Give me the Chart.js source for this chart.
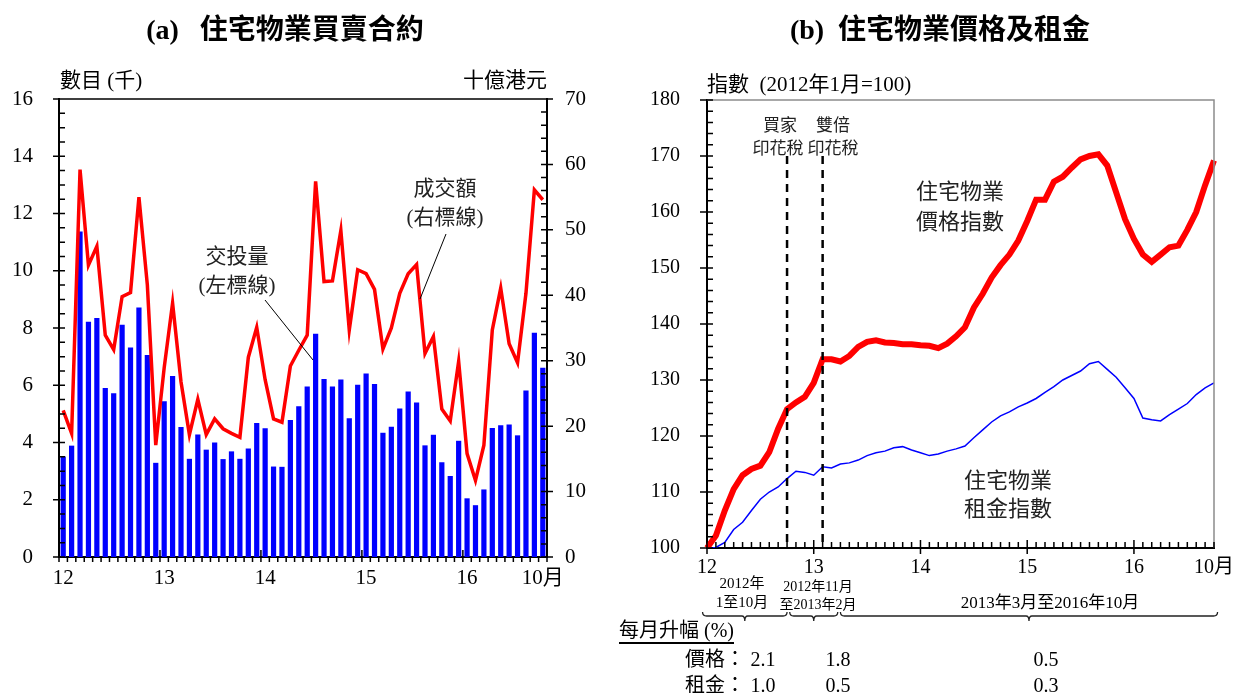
<!DOCTYPE html>
<html>
<head>
<meta charset="utf-8">
<script src="https://cdn.jsdelivr.net/npm/chart.js@4.4.1/dist/chart.umd.min.js"></script>
<style>
  body { margin: 0; background: #fff; }
  #page { position: relative; width: 1242px; height: 693px; overflow: hidden;
          font-family: "Liberation Serif", "Noto Sans CJK TC", serif; color: #000; }
  canvas { position: absolute; top: 0; }
  .t { position: absolute; white-space: pre; line-height: 1; transform: translate(-50%, -50%); }
  .l { position: absolute; white-space: pre; line-height: 1; transform: translateY(-50%); }
  .r { position: absolute; white-space: pre; line-height: 1; transform: translate(-100%, -50%); }
  .title { font-size: 28px; font-weight: bold; }
  .title span { font-family: "Noto Sans CJK TC", sans-serif; }
  .note { color: #222; }
</style>
</head>
<body>
<div id="page">
  <canvas id="chartA" width="600" height="600" style="left:0"></canvas>
  <canvas id="chartB" width="642" height="693" style="left:600px"></canvas>

  <div class="t title" style="left:285px; top:28px">(a)   <span>住宅物業買賣合約</span></div>
  <div class="t title" style="left:940px; top:28px">(b)  <span>住宅物業價格及租金</span></div>

  <div class="l" style="left:60px; top:80px; font-size:21px">數目 (千)</div>
  <div class="r" style="left:547px; top:80px; font-size:21px">十億港元</div>
  <div class="t note" style="left:237px; top:256px; font-size:21px">交投量</div>
  <div class="t note" style="left:237px; top:285px; font-size:21px">(左標線)</div>
  <div class="t note" style="left:445px; top:188px; font-size:21px">成交額</div>
  <div class="t note" style="left:445px; top:217px; font-size:21px">(右標線)</div>

  <div class="l" style="left:707px; top:84px; font-size:21px">指數  (2012年1月=100)</div>
  <div class="t note" style="left:780px; top:125px; font-size:17px">買家</div>
  <div class="t note" style="left:778px; top:148px; font-size:17px">印花稅</div>
  <div class="t note" style="left:833px; top:125px; font-size:17px">雙倍</div>
  <div class="t note" style="left:833px; top:148px; font-size:17px">印花稅</div>
  <div class="t note" style="left:960px; top:192px; font-size:22px">住宅物業</div>
  <div class="t note" style="left:960px; top:222px; font-size:22px">價格指數</div>
  <div class="t note" style="left:1008px; top:481px; font-size:22px">住宅物業</div>
  <div class="t note" style="left:1008px; top:509px; font-size:22px">租金指數</div>

  <div class="t" style="left:742px; top:583px; font-size:15px">2012年</div>
  <div class="t" style="left:742px; top:602px; font-size:15px">1至10月</div>
  <div class="t" style="left:818px; top:587px; font-size:14px">2012年11月</div>
  <div class="t" style="left:818px; top:605px; font-size:14px">至2013年2月</div>
  <div class="t" style="left:1050px; top:602px; font-size:17px">2013年3月至2016年10月</div>
  <div class="l" style="left:619px; top:632px; font-size:20px; border-bottom:2px solid #000; padding-bottom:2px">每月升幅 (%)</div>
  <div class="r" style="left:745px; top:659px; font-size:20px">價格：</div>
  <div class="r" style="left:745px; top:685px; font-size:20px">租金：</div>
  <div id="footer"></div>
</div>

<script>
// months Jan 2012 - Oct 2016
const months = [
  '2012-01','2012-02','2012-03','2012-04','2012-05','2012-06','2012-07','2012-08','2012-09','2012-10','2012-11','2012-12',
  '2013-01','2013-02','2013-03','2013-04','2013-05','2013-06','2013-07','2013-08','2013-09','2013-10','2013-11','2013-12',
  '2014-01','2014-02','2014-03','2014-04','2014-05','2014-06','2014-07','2014-08','2014-09','2014-10','2014-11','2014-12',
  '2015-01','2015-02','2015-03','2015-04','2015-05','2015-06','2015-07','2015-08','2015-09','2015-10','2015-11','2015-12',
  '2016-01','2016-02','2016-03','2016-04','2016-05','2016-06','2016-07','2016-08','2016-09','2016-10'
];

// (a) agreements, thousand (left axis)
const volume = [
  3.51, 3.89, 11.37, 8.22, 8.35, 5.90, 5.72, 8.11, 7.32, 8.72, 7.06, 3.29,
  5.44, 6.32, 4.54, 3.43, 4.28, 3.75, 4.00, 3.42, 3.69, 3.43, 3.79, 4.68,
  4.50, 3.16, 3.15, 4.79, 5.27, 5.96, 7.80, 6.22, 5.96, 6.20, 4.85, 6.02,
  6.41, 6.04, 4.34, 4.55, 5.19, 5.78, 5.40, 3.90, 4.27, 3.31, 2.83, 4.06,
  2.05, 1.81, 2.36, 4.51, 4.60, 4.63, 4.25, 5.82, 7.83, 6.61
];

// (a) consideration, HK$ billion (right axis)
const consideration = [
  22.4, 18.9, 59.2, 44.6, 47.5, 33.9, 31.7, 39.8, 40.4, 55.0, 41.6, 17.1,
  28.9, 38.8, 26.8, 18.7, 24.1, 18.7, 21.1, 19.6, 18.9, 18.3, 30.5, 35.1,
  27.1, 21.1, 20.6, 29.2, 31.6, 33.9, 57.4, 42.1, 42.2, 49.9, 34.7, 43.9,
  43.3, 40.9, 31.8, 35.0, 40.3, 43.3, 44.7, 31.1, 33.7, 22.6, 20.8, 29.9,
  15.8, 11.7, 17.1, 34.7, 41.1, 32.6, 29.7, 40.3, 56.1, 54.6
];

// (b) indices, Jan 2012 = 100
const priceIndex = [
  100.0, 102.2, 106.7, 110.5, 113.0, 114.1, 114.7, 117.1, 121.3, 124.8, 126.0, 127.0,
  129.5, 133.7, 133.7, 133.3, 134.3, 135.9, 136.8, 137.1, 136.7, 136.6, 136.4, 136.4,
  136.2, 136.1, 135.7, 136.5, 137.8, 139.4, 142.9, 145.4, 148.3, 150.5, 152.4, 154.9,
  158.4, 162.2, 162.2, 165.4, 166.3, 167.9, 169.4, 170.0, 170.3, 168.3, 163.5, 158.7,
  155.2, 152.4, 151.1, 152.4, 153.7, 154.0, 156.8, 160.0, 164.8, 169.2
];
const rentIndex = [
  100.0, 100.1, 101.0, 103.3, 104.6, 106.7, 108.7, 110.0, 110.9, 112.4, 113.7, 113.5,
  113.0, 114.5, 114.3, 115.0, 115.2, 115.7, 116.5, 117.0, 117.3, 117.9, 118.1, 117.5,
  117.0, 116.5, 116.8, 117.3, 117.7, 118.2, 119.7, 121.1, 122.5, 123.6, 124.3, 125.2,
  125.9, 126.7, 127.8, 128.8, 130.0, 130.8, 131.6, 132.9, 133.3, 131.9, 130.5, 128.6,
  126.7, 123.2, 122.9, 122.7, 123.8, 124.8, 125.8, 127.4, 128.6, 129.5
];

const tickMonths = ['2012-01', '2013-01', '2014-01', '2015-01', '2016-01', '2016-10'];
const tickLabels = ['12', '13', '14', '15', '16', '10月'];
const stampDutyMonths = ['2012-10', '2013-02'];

// monthly change (%) per period
const priceChange = ['2.1', '1.8', '0.5'];
const rentChange = ['1.0', '0.5', '0.3'];

const SERIF = '"Liberation Serif", "Noto Sans CJK TC", serif';

function monthTick(value, index) {
  const k = tickMonths.indexOf(months[index]);
  return k < 0 ? '' : tickLabels[k];
}

// footer numbers
const footerX = [763, 838, 1046];
const footer = document.getElementById('footer');
priceChange.forEach((v, i) => {
  footer.insertAdjacentHTML('beforeend',
    '<div class="t" style="left:' + footerX[i] + 'px; top:659px; font-size:20px">' + v + '</div>' +
    '<div class="t" style="left:' + footerX[i] + 'px; top:685px; font-size:20px">' + rentChange[i] + '</div>');
});

const ticksA = {
  id: 'ticksA',
  afterDraw(chart) {
    const { ctx, chartArea: a, scales: { x, y, y1 } } = chart;
    ctx.save();
    ctx.strokeStyle = '#000';
    ctx.lineWidth = 1.5;
    ctx.beginPath();
    ctx.moveTo(a.left - 6, a.top);
    ctx.lineTo(a.right, a.top);
    for (let v = 0; v <= 16; v += 0.5) {
      const py = y.getPixelForValue(v);
      ctx.moveTo(a.left + 6, py);
      ctx.lineTo(v % 2 === 0 ? a.left - 6 : a.left, py);
    }
    for (let v = 0; v <= 70; v += 2) {
      const py = y1.getPixelForValue(v);
      ctx.moveTo(a.right - 6, py);
      ctx.lineTo(v % 10 === 0 ? a.right + 6 : a.right, py);
    }
    const half = (x.getPixelForValue(1) - x.getPixelForValue(0)) / 2;
    for (let i = 0; i <= months.length; i++) {
      const px = x.getPixelForValue(i) - half;
      ctx.moveTo(px, a.bottom + 5);
      ctx.lineTo(px, i % 12 === 0 && i > 0 ? a.bottom - 7 : a.bottom);
    }
    ctx.stroke();

    // leader lines
    ctx.lineWidth = 1;
    ctx.beginPath();
    ctx.moveTo(265, 300);
    ctx.lineTo(313, 360);
    ctx.moveTo(446, 234);
    ctx.lineTo(420, 299);
    ctx.stroke();
    ctx.restore();
  }
};

const ticksB = {
  id: 'ticksB',
  afterDraw(chart) {
    const { ctx, chartArea: a, scales: { x, y } } = chart;
    ctx.save();
    // grey frame top/right
    ctx.strokeStyle = '#8c8c8c';
    ctx.lineWidth = 1.5;
    ctx.beginPath();
    ctx.moveTo(a.left, a.top);
    ctx.lineTo(a.right, a.top);
    ctx.lineTo(a.right, a.bottom);
    ctx.stroke();

    ctx.strokeStyle = '#000';
    ctx.beginPath();
    for (let v = 100; v <= 180; v += 2) {
      const py = y.getPixelForValue(v);
      ctx.moveTo(a.left + 6, py);
      ctx.lineTo(v % 10 === 0 ? a.left - 7 : a.left, py);
    }
    for (let i = 0; i < months.length; i++) {
      const px = x.getPixelForValue(i);
      ctx.moveTo(px, i % 12 === 0 ? a.bottom - 8 : a.bottom - 6);
      ctx.lineTo(px, i % 12 === 0 ? a.bottom + 6 : a.bottom);
    }
    ctx.stroke();

    // stamp duty lines
    ctx.lineWidth = 2.5;
    ctx.setLineDash([8, 6]);
    ctx.beginPath();
    stampDutyMonths.forEach(m => {
      const px = x.getPixelForValue(months.indexOf(m));
      ctx.moveTo(px, y.getPixelForValue(170));
      ctx.lineTo(px, a.bottom);
    });
    ctx.stroke();
    ctx.setLineDash([]);

    // braces under the axis
    ctx.lineWidth = 1.3;
    ctx.strokeStyle = '#222';
    const by = 616;
    [[-0.5, 9.0], [9.3, 14.7], [15.0, 57.4]].forEach(([f, t]) => {
      const x0 = x.getPixelForValue(f), x1 = x.getPixelForValue(t), xm = (x0 + x1) / 2;
      ctx.beginPath();
      ctx.moveTo(x0, by - 4);
      ctx.quadraticCurveTo(x0, by, x0 + 4, by);
      ctx.lineTo(xm - 3, by);
      ctx.quadraticCurveTo(xm, by, xm, by + 5);
      ctx.quadraticCurveTo(xm, by, xm + 3, by);
      ctx.lineTo(x1 - 4, by);
      ctx.quadraticCurveTo(x1, by, x1, by - 4);
      ctx.stroke();
    });
    ctx.restore();
  }
};

const axisBorder = { display: true, color: '#000', width: 2 };
const noGrid = { display: false, drawTicks: false };

new Chart(document.getElementById('chartA'), {
  type: 'bar',
  data: {
    labels: months,
    datasets: [
      { type: 'line', data: consideration, yAxisID: 'y1', borderColor: '#ff0000', borderWidth: 3.5,
        pointRadius: 0, tension: 0, order: 0 },
      { type: 'bar', data: volume, yAxisID: 'y', backgroundColor: '#0000ff',
        barPercentage: 0.62, categoryPercentage: 1, order: 1 }
    ]
  },
  options: {
    responsive: false,
    animation: false,
    devicePixelRatio: 1,
    layout: { padding: { top: 99, left: 0, right: 0, bottom: 0 } },
    plugins: { legend: { display: false }, tooltip: { enabled: false } },
    scales: {
      x: {
        offset: true, grid: noGrid, border: axisBorder,
        ticks: { autoSkip: false, maxRotation: 0, padding: 9, color: '#000',
                 font: { family: SERIF, size: 21 }, callback: monthTick },
        afterFit: s => { s.height = 43; }
      },
      y: {
        position: 'left', min: 0, max: 16, grid: noGrid, border: axisBorder,
        ticks: { stepSize: 2, padding: 26, color: '#000', font: { family: SERIF, size: 21 } },
        afterFit: s => { s.width = 59; }
      },
      y1: {
        position: 'right', min: 0, max: 70, grid: noGrid, border: axisBorder,
        ticks: { stepSize: 10, padding: 18, color: '#000', font: { family: SERIF, size: 21 } },
        afterFit: s => { s.width = 53; }
      }
    }
  },
  plugins: [ticksA]
});

new Chart(document.getElementById('chartB'), {
  type: 'line',
  data: {
    labels: months,
    datasets: [
      { data: priceIndex, borderColor: '#ff0000', borderWidth: 6, pointRadius: 0, tension: 0, order: 0 },
      { data: rentIndex, borderColor: '#0000ff', borderWidth: 1.5, pointRadius: 0, tension: 0, order: 1 }
    ]
  },
  options: {
    responsive: false,
    animation: false,
    devicePixelRatio: 1,
    layout: { padding: { top: 100, left: 0, right: 28, bottom: 0 } },
    plugins: { legend: { display: false }, tooltip: { enabled: false } },
    scales: {
      x: {
        offset: false, grid: noGrid, border: axisBorder,
        ticks: { autoSkip: false, maxRotation: 0, padding: 8, color: '#000',
                 font: { family: SERIF, size: 20 }, callback: monthTick },
        afterFit: s => { s.height = 145; }
      },
      y: {
        min: 100, max: 180, grid: noGrid, border: axisBorder,
        ticks: { stepSize: 10, padding: 27, color: '#000', font: { family: SERIF, size: 20 } },
        afterFit: s => { s.width = 107; }
      }
    }
  },
  plugins: [ticksB]
});
</script>
</body>
</html>
